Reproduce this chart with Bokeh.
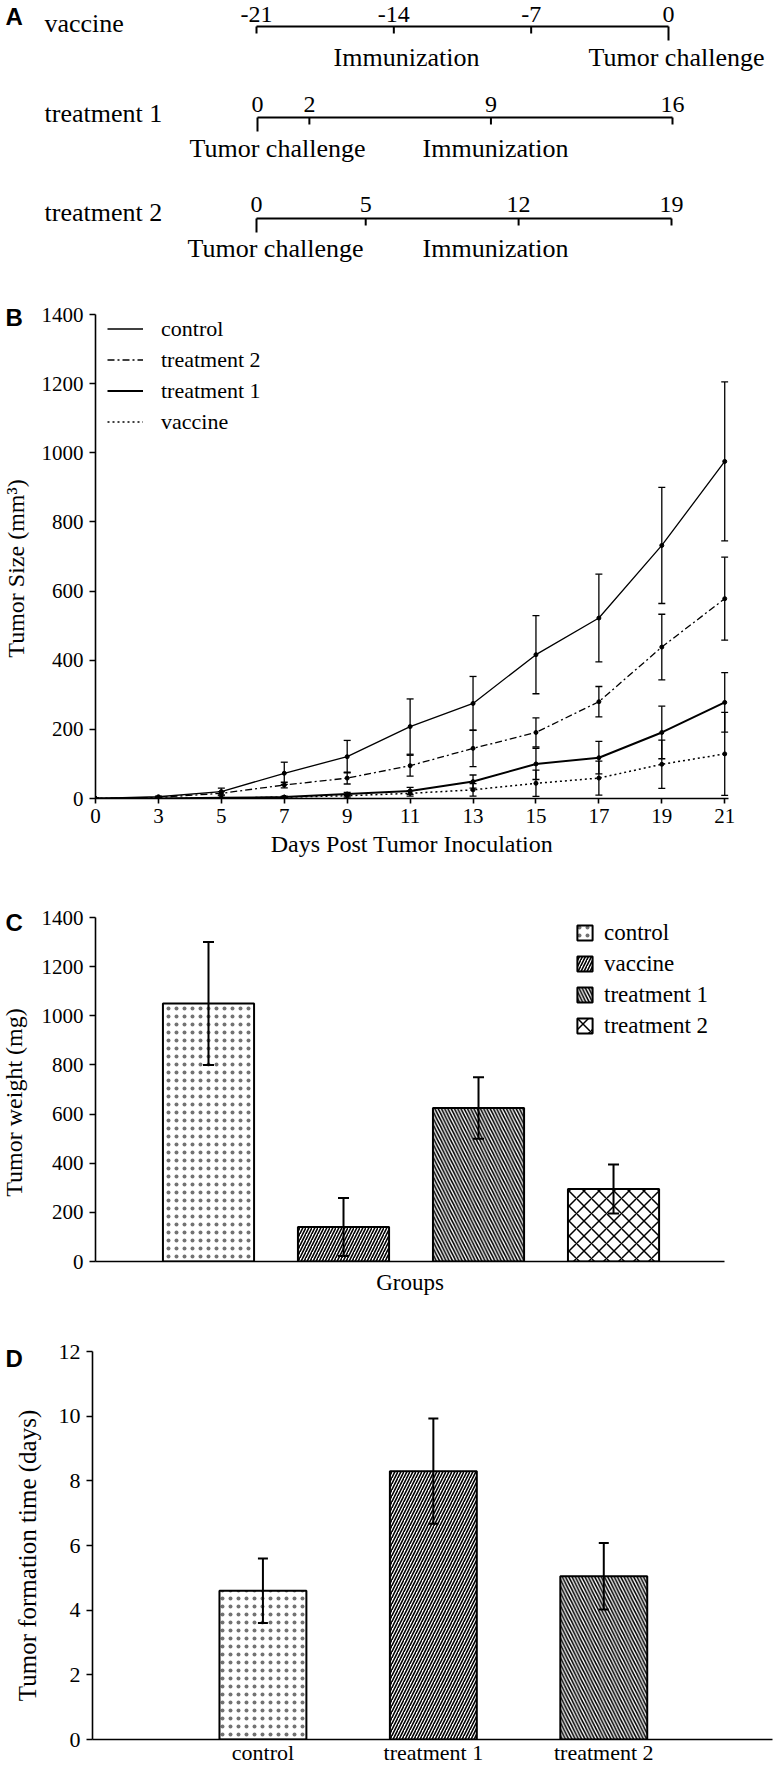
import math
from bokeh.plotting import figure
from bokeh.models import (Range1d, ColumnDataSource, Whisker, TeeHead,
                          Legend, LegendItem, FixedTicker)
from bokeh.layouts import column, row
from bokeh.embed import file_html
from bokeh.resources import INLINE
from bokeh.core.properties import value

SERIF = "Liberation Serif"
SANS = "Liberation Sans"

# ---------------- data ----------------
# Panel A: immunization schedules (days relative to tumor challenge)
schedule_names = ["vaccine", "treatment 1", "treatment 2"]
vaccine_days = [-21, -14, -7, 0]
treatment1_days = [0, 2, 9, 16]
treatment2_days = [0, 5, 12, 19]
challenge_days = [0, 0, 0]

# Panel B: tumor size (mm3)
days = [0, 3, 5, 7, 9, 11, 13, 15, 17, 19, 21]
control_size = [0, 5, 20, 73, 121, 208, 275, 416, 522, 732, 975]
control_err = [0, 2, 10, 32, 47, 80, 78, 113, 127, 168, 230]
treatment2_size = [0, 3, 15, 39, 59, 95, 145, 191, 280, 438, 578]
treatment2_err = [0, 1, 5, 8, 17, 30, 53, 42, 44, 95, 120]
treatment1_size = [0, 0, 2, 4, 13, 22, 49, 100, 118, 191, 278]
treatment1_err = [0, 0, 1, 2, 5, 10, 19, 45, 47, 76, 86]
vaccine_size = [0, 0, 1, 4, 8, 15, 25, 44, 59, 99, 129]
vaccine_err = [0, 0, 1, 2, 4, 8, 18, 38, 49, 70, 120]

# Panel C: tumor weight (mg)
groups_c = ["control", "vaccine", "treatment 1", "treatment 2"]
weight = [1050, 140, 625, 295]
weight_err = [250, 118, 125, 100]

# Panel D: tumor formation time (days)
groups_d = ["control", "treatment 1", "treatment 2"]
formation = [4.6, 8.3, 5.05]
formation_err = [1.0, 1.63, 1.03]

# ---------------- helpers ----------------
W = 773


def base_fig(**kw):
    p = figure(output_backend="svg", toolbar_location=None, frame_align=False, **kw)
    p.grid.visible = False
    p.outline_line_color = None
    p.background_fill_color = "white"
    p.border_fill_color = "white"
    return p


def plain_fig(w, h):
    # a figure whose frame is its whole area, ranges in pixels measured from the top-left
    return base_fig(width=w, height=h, x_range=Range1d(0, w), y_range=Range1d(h, 0),
                    x_axis_location=None, y_axis_location=None, min_border=0)


def style_axis(ax, tick_px, label_px, tick_out=6, standoff=6, label_standoff=4):
    ax.axis_line_color = "black"
    ax.axis_line_width = 1.6
    ax.major_tick_line_color = "black"
    ax.major_tick_line_width = 1.6
    ax.major_tick_out = tick_out
    ax.major_tick_in = 0
    ax.minor_tick_line_color = None
    ax.major_label_text_font = SERIF
    ax.major_label_text_font_size = f"{tick_px}px"
    ax.major_label_text_color = "black"
    ax.major_label_standoff = standoff
    ax.axis_label_text_font = SERIF
    ax.axis_label_text_font_size = f"{label_px}px"
    ax.axis_label_text_font_style = "normal"
    ax.axis_label_text_color = "black"
    ax.axis_label_standoff = label_standoff


def side_panel(w, h, letter, letter_y, title, title_x, title_y, title_px):
    s = plain_fig(w, h)
    s.text(x=[5], y=[letter_y], text=[letter], text_font=value(SANS), text_font_style="bold",
           text_font_size="24px", text_align="left", text_baseline="middle", text_color="black")
    s.text(x=[title_x], y=[title_y], text=[title], angle=math.pi / 2,
           text_font=value(SERIF), text_font_size=f"{title_px}px",
           text_align="center", text_baseline="middle", text_color="black")
    return s


PATTERNS = {
    "dots": dict(hatch_pattern="dot", hatch_scale=8, hatch_alpha=0.55),
    "/": dict(hatch_pattern="right_diagonal_line", hatch_scale=6, hatch_weight=1.6),
    "\\": dict(hatch_pattern="left_diagonal_line", hatch_scale=6.5, hatch_weight=1.6),
    "x": dict(hatch_pattern="diagonal_cross", hatch_scale=15, hatch_weight=1.5),
}


def draw_bars(p, values, errors, width, styles, head):
    xs = list(range(len(values)))
    rends = []
    for x, v, st in zip(xs, values, styles):
        src = ColumnDataSource(dict(x=[x], top=[v]))
        r = p.vbar(x="x", top="top", width=width, source=src, fill_color="white",
                   line_color="black", line_width=2, hatch_color="black", **PATTERNS[st])
        rends.append(r)
    esrc = ColumnDataSource(dict(x=xs, upper=[v + e for v, e in zip(values, errors)],
                                 lower=[v - e for v, e in zip(values, errors)]))
    wk = Whisker(source=esrc, base="x", upper="upper", lower="lower", dimension="height",
                 line_color="black", line_width=2,
                 upper_head=TeeHead(size=head, line_color="black", line_width=2),
                 lower_head=TeeHead(size=head, line_color="black", line_width=2))
    wk.level = "overlay"
    p.add_layout(wk)
    return rends


# ---------------- Panel A ----------------
HA = 270
pa = plain_fig(W, HA)

rows_layout = [
    # name_y, line_y, ticklab_y, px_first, px_last, text_y, immun_x, chall_x   (text centres)
    (23, 26, 14, 256, 668, 57, 406, 676),
    (113, 117, 104, 257, 672, 148, 495, 277),
    (212, 218, 204, 256, 671, 248, 495, 275),
]
schedules = [vaccine_days, treatment1_days, treatment2_days]
txt = dict(text_font=value(SERIF), text_font_size="26px", text_color="black",
           text_baseline="middle")
ticktxt = dict(text_font=value(SERIF), text_font_size="24px", text_color="black",
               text_baseline="middle")

pa.text(x=[5], y=[16], text=["A"], text_font=value(SANS), text_font_style="bold",
        text_font_size="24px", text_align="left", text_baseline="middle", text_color="black")

for i, (name, sched, cday, lay) in enumerate(zip(schedule_names, schedules, challenge_days, rows_layout)):
    ny, ly, ty, px0, px1, texty, imx, chx = lay
    d0, d1 = sched[0], sched[-1]
    scale = (px1 - px0) / (d1 - d0)
    rname = f"row{i}"
    pa.extra_x_ranges[rname] = Range1d(d0 - px0 / scale, d0 + (W - px0) / scale)
    pa.segment(x0=[d0], x1=[d1], y0=[ly], y1=[ly], x_range_name=rname,
               line_color="black", line_width=2.2)
    tick_end = [ly + (14 if d == cday else 7) for d in sched]
    pa.segment(x0=sched, x1=sched, y0=[ly] * len(sched), y1=tick_end, x_range_name=rname,
               line_color="black", line_width=2)
    pa.text(x=sched, y=[ty] * len(sched), text=[str(d) for d in sched], x_range_name=rname,
            text_align="center", **ticktxt)
    pa.text(x=[44], y=[ny], text=[name], text_align="left", **txt)
    pa.text(x=[imx, chx], y=[texty, texty], text=["Immunization", "Tumor challenge"],
            text_align="center", **txt)

# ---------------- Panel B ----------------
HB = 598
SB = 36
idx = list(range(len(days)))
pb = base_fig(frame_width=633, frame_height=484,
              x_range=Range1d(0, len(days) - 1 + 0.06), y_range=Range1d(0, 1400),
              min_border_left=95 - SB, min_border_right=W - 95 - 633,
              min_border_top=44, min_border_bottom=70)
style_axis(pb.xaxis[0], 21, 24, tick_out=5, standoff=5, label_standoff=5)
style_axis(pb.yaxis[0], 21, 24, tick_out=6, standoff=6)
pb.xaxis[0].ticker = FixedTicker(ticks=idx)
pb.xaxis[0].major_label_overrides = {i: str(d) for i, d in enumerate(days)}
pb.xaxis[0].axis_label = "Days Post Tumor Inoculation"
pb.yaxis[0].ticker = FixedTicker(ticks=list(range(0, 1401, 200)))

series_b = [
    ("control", control_size, control_err, dict(line_width=1.3)),
    ("treatment 2", treatment2_size, treatment2_err, dict(line_width=1.3, line_dash="7 3 2 3")),
    ("treatment 1", treatment1_size, treatment1_err, dict(line_width=2.0)),
    ("vaccine", vaccine_size, vaccine_err, dict(line_width=1.5, line_dash="2 3")),
]
items_b = []
for name, vals, errs, st in series_b:
    src = ColumnDataSource(dict(x=idx, y=vals,
                                upper=[v + e for v, e in zip(vals, errs)],
                                lower=[v - e for v, e in zip(vals, errs)]))
    r = pb.line("x", "y", source=src, line_color="black", **st)
    pb.scatter("x", "y", source=src, size=4, color="black")
    w = Whisker(source=src, base="x", upper="upper", lower="lower", dimension="height",
                line_color="black", line_width=1.3,
                upper_head=TeeHead(size=7, line_color="black", line_width=1.3),
                lower_head=TeeHead(size=7, line_color="black", line_width=1.3))
    w.level = "overlay"
    pb.add_layout(w)
    items_b.append(LegendItem(label=name, renderers=[r]))

leg_b = Legend(items=items_b, location=(12, 484 - 4 * 31 + 1), border_line_color=None,
               background_fill_alpha=0, padding=0, margin=0, spacing=0,
               label_height=31, glyph_height=31, glyph_width=36, label_standoff=18,
               label_text_font=SERIF, label_text_font_size="22px", label_text_color="black")
pb.add_layout(leg_b)
sb = side_panel(SB, HB, "B", 47, "Tumor Size (mm³)", 15, 298, 24)

# ---------------- Panel C ----------------
HC = 430
SC = 36
pc = base_fig(frame_width=629, frame_height=344,
              x_range=Range1d(-0.837, 3.822), y_range=Range1d(0, 1400),
              min_border_left=95 - SC, min_border_right=W - 95 - 629,
              min_border_top=49, min_border_bottom=37)
style_axis(pc.xaxis[0], 21, 23, tick_out=0, standoff=0, label_standoff=8)
style_axis(pc.yaxis[0], 21, 24, tick_out=6, standoff=6)
pc.xaxis[0].ticker = FixedTicker(ticks=[])
pc.xaxis[0].axis_label = "Groups"
pc.yaxis[0].ticker = FixedTicker(ticks=list(range(0, 1401, 200)))

rends_c = draw_bars(pc, weight, weight_err, 0.675, ["dots", "/", "\\", "x"], 11)
items_c = [LegendItem(label=g, renderers=[r]) for g, r in zip(groups_c, rends_c)]
leg_c = Legend(items=items_c, location=(480, 344 - 4 * 31 + 0), border_line_color=None,
               background_fill_alpha=0, padding=0, margin=0, spacing=0,
               label_height=31, glyph_height=19, glyph_width=19, label_standoff=10,
               label_text_font=SERIF, label_text_font_size="23px", label_text_color="black")
pc.add_layout(leg_c)
sc = side_panel(SC, HC, "C", 54, "Tumor weight (mg)", 13, 234, 24)

# ---------------- Panel D ----------------
HD = 468
SD = 50
pd_ = base_fig(frame_width=680, frame_height=388,
               x_range=Range1d(-1, 2.99), y_range=Range1d(0, 12),
               min_border_left=92 - SD, min_border_right=W - 92 - 680,
               min_border_top=53, min_border_bottom=27)
style_axis(pd_.xaxis[0], 22, 22, tick_out=0, standoff=0, label_standoff=0)
style_axis(pd_.yaxis[0], 22, 25, tick_out=6, standoff=6)
pd_.xaxis[0].ticker = FixedTicker(ticks=list(range(len(groups_d))))
pd_.xaxis[0].major_label_overrides = {i: g for i, g in enumerate(groups_d)}
pd_.yaxis[0].ticker = FixedTicker(ticks=list(range(0, 13, 2)))

draw_bars(pd_, formation, formation_err, 0.51, ["dots", "/", "\\"], 10)
sd = side_panel(SD, HD, "D", 60, "Tumor formation time (days)", 27, 257, 25)

layout = column(pa, row(sb, pb, spacing=0), row(sc, pc, spacing=0), row(sd, pd_, spacing=0),
                spacing=0)
open("out.html", "w").write(file_html(layout, INLINE))
